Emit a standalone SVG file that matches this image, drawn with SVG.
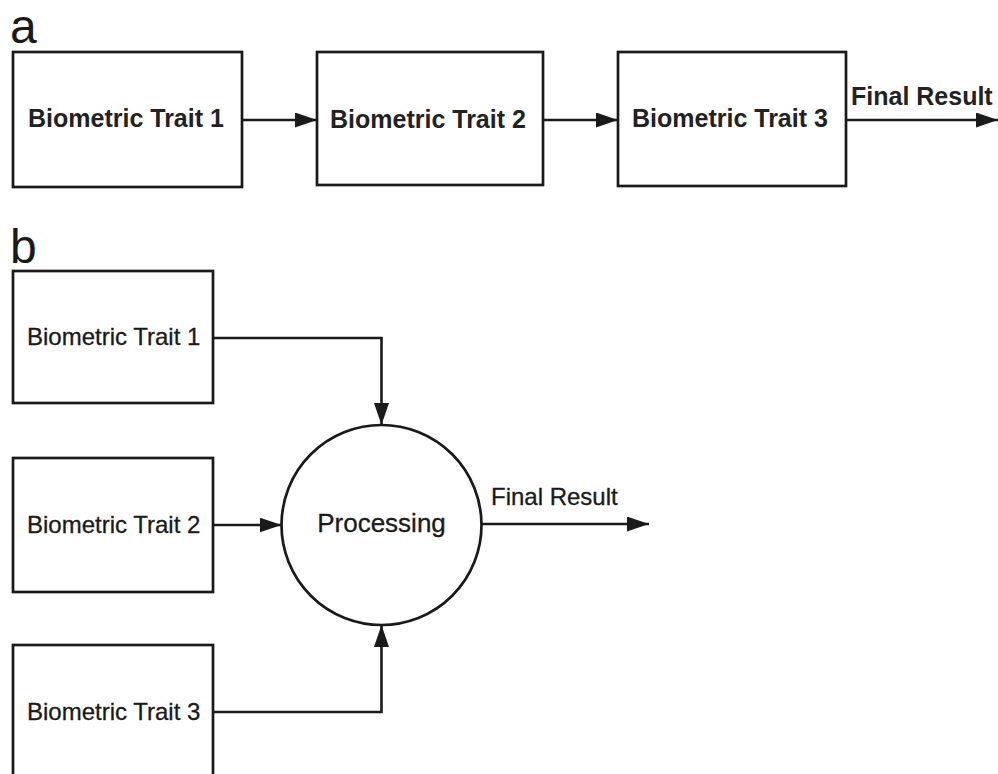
<svg xmlns="http://www.w3.org/2000/svg" width="998" height="774" viewBox="0 0 998 774">
  <style>
    .box { fill: #fff; stroke: #1a1a1a; stroke-width: 2.7; }
    .wire { fill: none; stroke: #1a1a1a; stroke-width: 2.6; }
    .ta { font-family: "Liberation Sans", Arial, sans-serif; font-size: 25px; font-weight: bold; fill: #222; }
    .tb { font-family: "Liberation Sans", Arial, sans-serif; font-size: 24px; fill: #1a1a1a; stroke: #1a1a1a; stroke-width: 0.3; }
    .panel { font-family: "Liberation Sans", Arial, sans-serif; font-size: 48px; fill: #1a1a1a; }
  </style>
  <defs>
    <marker id="arrow" markerUnits="userSpaceOnUse" markerWidth="24" markerHeight="16" refX="22" refY="7.5" orient="auto">
      <path d="M0,0 L22,7.5 L0,15 Z" fill="#1a1a1a"/>
    </marker>
  </defs>
  <rect width="998" height="774" fill="#fff"/>

  <!-- panel a: serial chain -->
  <text class="panel" x="10" y="43">a</text>
  <g id="a-trait1">
    <rect class="box" x="13" y="52" width="229" height="135"/>
    <text class="ta" x="28" y="127">Biometric Trait 1</text>
  </g>
  <g id="a-trait2">
    <rect class="box" x="317" y="52" width="226" height="133"/>
    <text class="ta" x="330" y="128">Biometric Trait 2</text>
  </g>
  <g id="a-trait3">
    <rect class="box" x="618" y="52" width="228" height="134"/>
    <text class="ta" x="632" y="127">Biometric Trait 3</text>
  </g>

  <!-- panel b: parallel fusion -->
  <text class="panel" x="10" y="263">b</text>
  <g id="b-trait1">
    <rect class="box" x="13" y="271" width="200" height="132"/>
    <text class="tb" x="27" y="345">Biometric Trait 1</text>
  </g>
  <g id="b-trait2">
    <rect class="box" x="13" y="458" width="200" height="134"/>
    <text class="tb" x="27" y="533">Biometric Trait 2</text>
  </g>
  <g id="b-trait3">
    <rect class="box" x="13" y="645" width="200" height="140"/>
    <text class="tb" x="27" y="720">Biometric Trait 3</text>
  </g>
  <g id="b-processing">
    <circle class="box" cx="381.5" cy="525" r="100"/>
    <text class="tb" x="381.5" y="532" text-anchor="middle" style="font-size:26px">Processing</text>
  </g>

  <g id="connectors">
    <line class="wire" x1="242" y1="120" x2="317" y2="120" marker-end="url(#arrow)"/>
    <line class="wire" x1="543" y1="120" x2="618" y2="120" marker-end="url(#arrow)"/>
    <line class="wire" x1="846" y1="120" x2="998" y2="120" marker-end="url(#arrow)"/>
    <text class="ta" x="851" y="105">Final Result</text>

    <polyline class="wire" points="213,338 381.5,338 381.5,425" marker-end="url(#arrow)"/>
    <line class="wire" x1="213" y1="525" x2="281.5" y2="525" marker-end="url(#arrow)"/>
    <polyline class="wire" points="213,712 381.5,712 381.5,625" marker-end="url(#arrow)"/>
    <line class="wire" x1="481.5" y1="524" x2="649" y2="524" marker-end="url(#arrow)"/>
    <text class="tb" x="491" y="505">Final Result</text>
  </g>
</svg>
